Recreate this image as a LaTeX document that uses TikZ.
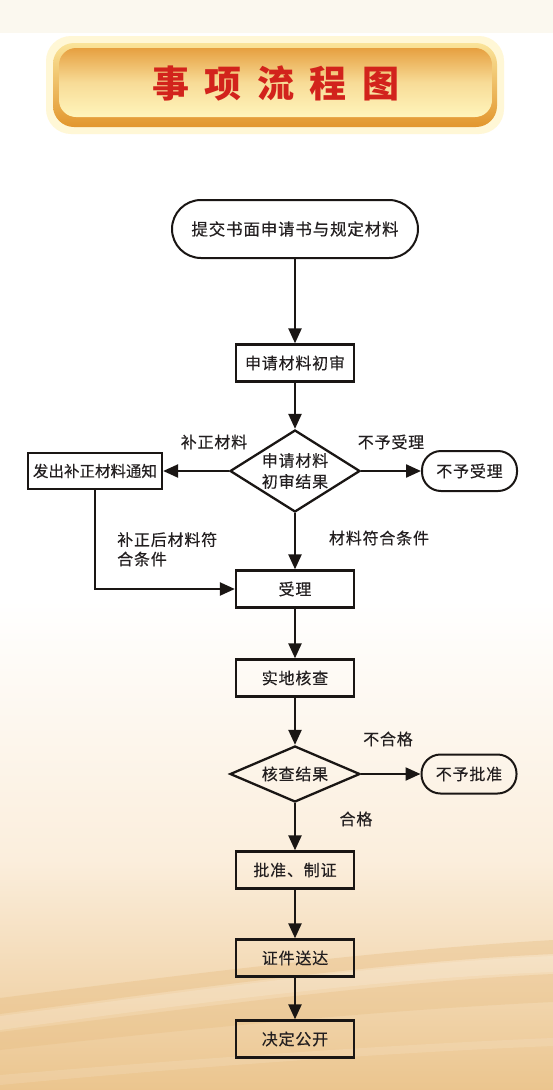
\documentclass[tikz,border=0pt]{standalone}
\usepackage{fontspec}
\usetikzlibrary{arrows.meta,shapes.geometric}
\newfontfamily\cjk[LetterSpace=5,FakeBold=0.3]{Noto Sans CJK SC}
\newfontfamily\cjkn[FakeBold=0.3]{Noto Sans CJK SC}
\newfontfamily\cjkt{Noto Sans CJK SC}
\definecolor{linec}{HTML}{1A1614}
\definecolor{textc}{HTML}{231F20}
\definecolor{titlered}{HTML}{D2231C}
\definecolor{tan}{HTML}{EBC58E}
\definecolor{peach}{HTML}{FBEEDC}
\definecolor{cream}{HTML}{FBF8EF}
\definecolor{stripe}{HTML}{E6BA7C}
\definecolor{glow}{HTML}{FFF7D6}
\definecolor{rimtop}{HTML}{FAE49A}
\definecolor{rimbot}{HTML}{E2962E}
\definecolor{intop}{HTML}{E6A040}
\definecolor{inbot}{HTML}{FFF5BC}
\tikzset{
  arr/.style={draw=linec, line width=2.3pt, -{Triangle[length=15pt,width=13pt]}},
  plainbox/.style={draw=linec, line width=2.3pt, rectangle, minimum width=118pt, minimum height=37pt, inner sep=0pt, text=textc, font=\fontsize{16}{18}\cjk},
  term/.style={draw=linec, line width=2pt, rectangle, rounded corners=19pt, minimum width=95pt, minimum height=40pt, inner sep=0pt, text=textc, font=\fontsize{16}{18}\cjk},
  decision/.style={draw=linec, line width=2.3pt, diamond, inner sep=0pt, minimum width=130pt},
  lbl/.style={text=textc, font=\fontsize{16}{22}\cjk, inner sep=0pt, align=center}
}
\begin{document}
\begin{tikzpicture}[x=1pt,y=-1pt]
\useasboundingbox (0,0) rectangle (553,1090);
% background
\fill[white] (0,0) rectangle (553,1090);
\fill[cream] (0,0) rectangle (553,33);
\shade[top color=white, bottom color=peach] (0,600) rectangle (553,860);
\shade[top color=peach, bottom color=tan] (0,860) rectangle (553,1090);
\fill[stripe, opacity=0.35] (0,998) .. controls (180,975) and (380,950) .. (553,940) -- (553,954) .. controls (380,962) and (180,990) .. (0,1014) -- cycle;
\fill[white, opacity=0.15] (0,1016) .. controls (180,993) and (380,963) .. (553,956) -- (553,972) .. controls (380,978) and (180,1005) .. (0,1030) -- cycle;
\fill[stripe, opacity=0.3] (0,1032) .. controls (180,1010) and (380,982) .. (553,974) -- (553,1002) .. controls (380,1010) and (180,1030) .. (0,1050) -- cycle;
\fill[white, opacity=0.12] (0,1075) .. controls (180,1060) and (380,1045) .. (553,1038) -- (553,1046) .. controls (380,1053) and (180,1068) .. (0,1085) -- cycle;
% title banner
\fill[glow, rounded corners=25pt] (46,36) rectangle (504,134);
\shade[top color=rimtop, bottom color=rimbot, rounded corners=21pt] (53,43) rectangle (497,127);
\shade[top color=intop, bottom color=inbot, middle color=inbot!70!intop, rounded corners=17pt] (59,48) rectangle (492,117);
\node[text=titlered, font=\fontsize{37}{40}\cjkt\bfseries, inner sep=0pt] (title) at (276,83)
  {事\hspace{15.5pt}项\hspace{15.5pt}流\hspace{15.5pt}程\hspace{15.5pt}图};
% nodes
\node[term, rounded corners=29pt, minimum width=246pt, minimum height=58pt, font=\fontsize{16.5}{18}\cjk] (start) at (295,229) {提交书面申请书与规定材料};
\node[plainbox] (first) at (295,363) {申请材料初审};
\node[decision, minimum height=82pt, label={[lbl]center:{申请材料\\[-1pt]初审结果}}] (d1) at (295,471) {};
\node[plainbox, minimum width=134pt, minimum height=36pt, font=\fontsize{15.5}{18}\cjkn] (notice) at (95,471) {发出补正材料通知};
\node[term] (reject1) at (469.5,471) {不予受理};
\node[plainbox] (accept) at (295,589) {受理};
\node[plainbox] (check) at (295,678) {实地核查};
\node[decision, minimum height=56pt, label={[lbl]center:{核查结果}}] (d2) at (295,774) {};
\node[term, minimum height=39pt] (reject2) at (469,774) {不予批准};
\node[plainbox] (approve) at (295,870) {批准、制证};
\node[plainbox] (deliver) at (295,958) {证件送达};
\node[plainbox] (publish) at (295,1039) {决定公开};
% labels
\node[lbl] (l1) at (214,442) {补正材料};
\node[lbl] (l2) at (391,442) {不予受理};
\node[lbl] (l3) at (379,538) {材料符合条件};
\node[lbl, align=left, anchor=north west, font=\fontsize{16}{19.5}\cjk] (l4) at (117,532) {补正后材料符\\合条件};
\node[lbl] (l5) at (388,739) {不合格};
\node[lbl] (l6) at (356,819) {合格};
% connectors
\draw[arr] (start.south) -- (first.north);
\draw[arr] (first.south) -- (d1.north);
\draw[arr] (d1.west) -- (notice.east);
\draw[arr] (d1.east) -- (reject1.west);
\draw[arr] (d1.south) -- (accept.north);
\draw[arr] (notice.south) |- (accept.west);
\draw[arr] (accept.south) -- (check.north);
\draw[arr] (check.south) -- (d2.north);
\draw[arr] (d2.east) -- (reject2.west);
\draw[arr] (d2.south) -- (approve.north);
\draw[arr] (approve.south) -- (deliver.north);
\draw[arr] (deliver.south) -- (publish.north);
\end{tikzpicture}
\end{document}
